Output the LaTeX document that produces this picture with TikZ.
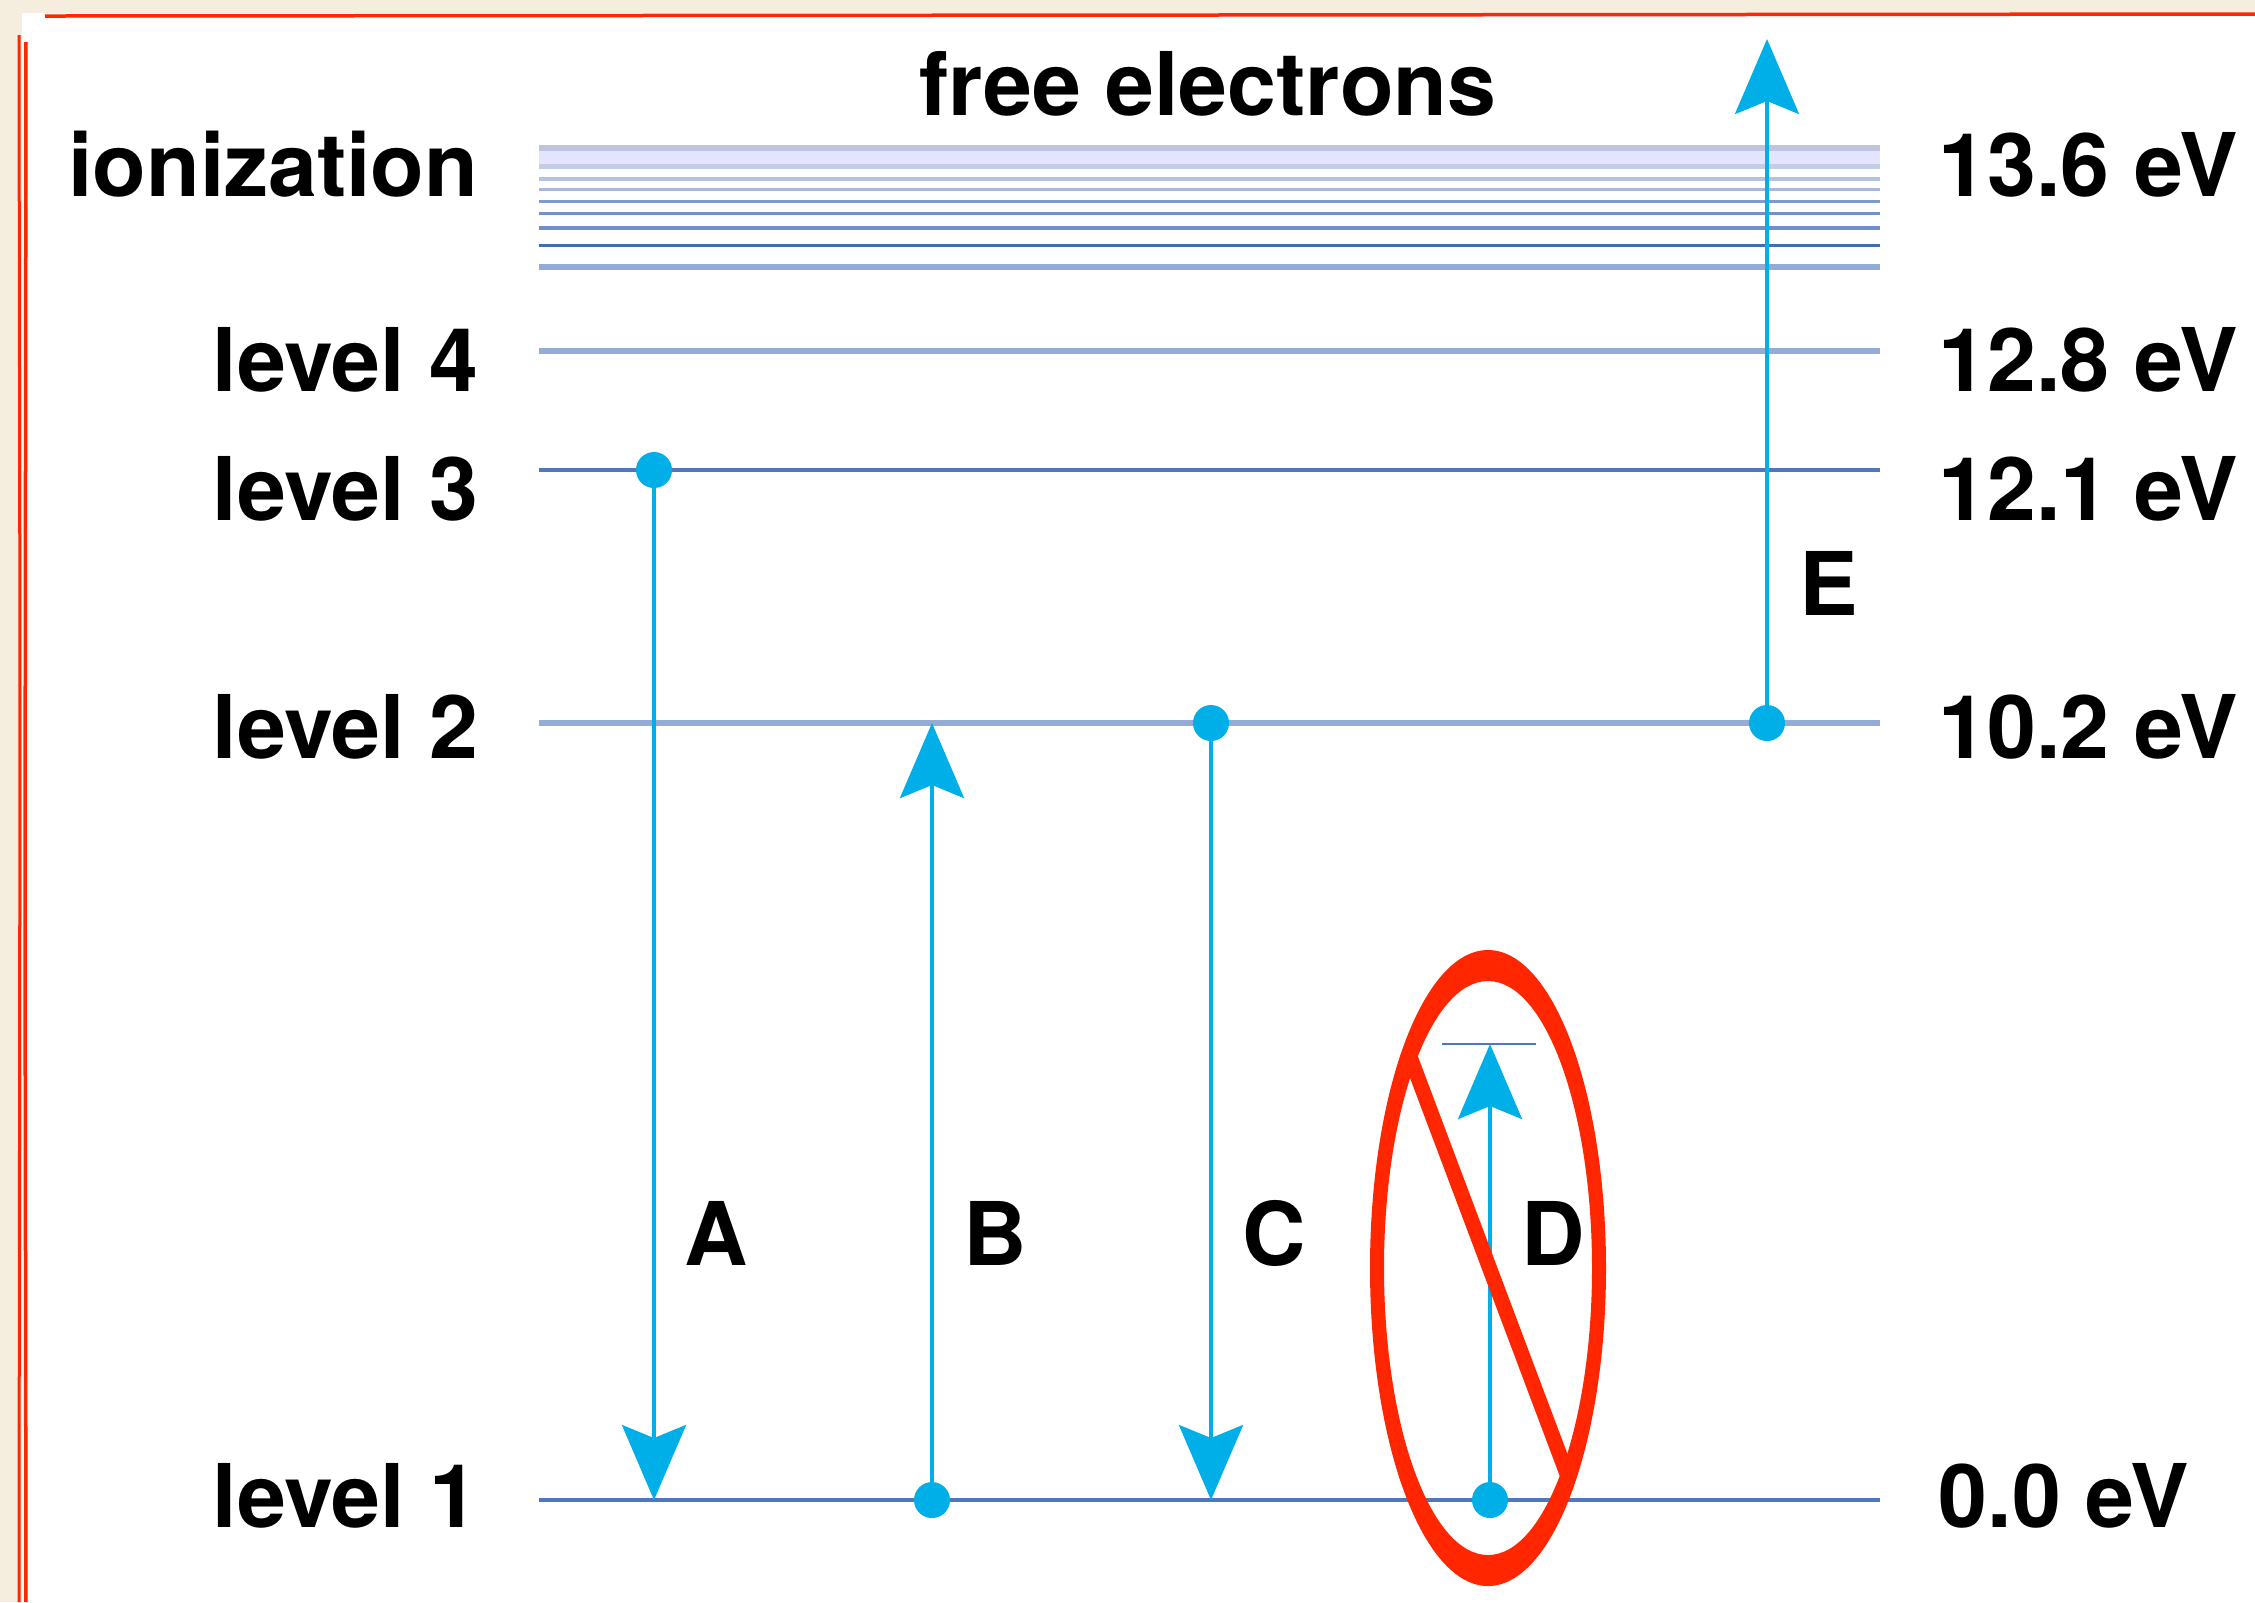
\documentclass[tikz,border=0pt]{standalone}
\usepackage{fontspec}
\setmainfont{TeX Gyre Heros}
\usepackage{xcolor}
\usetikzlibrary{arrows.meta}
\definecolor{paper}{RGB}{245, 238, 223}
\definecolor{marker}{RGB}{255, 38, 0}
\definecolor{jumpc}{RGB}{0, 174, 232}
\definecolor{levpale}{RGB}{146, 172, 214}
\definecolor{levdark}{RGB}{80, 118, 190}

\begin{document}
\begin{tikzpicture}[x=0.1mm,y=-0.1mm,
  lbl/.style={font=\fontsize{25}{30}\selectfont\bfseries,inner sep=0pt},
  jump/.style={jumpc,line width=0.38mm,-{Stealth[length=7.5mm,width=6.4mm,inset=1.3mm]}},
  dot/.style={jumpc},
  lev/.style={line width=0.35mm,levdark},
  levthick/.style={line width=0.6mm,levpale}]
\useasboundingbox (0,0) rectangle (2255,1602);
% paper and hand-drawn frame
\fill[paper] (0,0) rectangle (2255,1602);
\fill[white] (22,13) rectangle (2255,1602);
\draw[marker,line width=0.35mm] (45,16) -- (1200,15) -- (2255,14);
\draw[marker,line width=0.3mm] (19,35) -- (20,700) -- (19,1602);
\draw[marker,line width=0.35mm] (26,42) -- (25,900) -- (26,1602);
% ionization band
\fill[blue!30!white,opacity=0.35] (539,148) rectangle (1880,166);
\foreach \yy/\cc/\ww in {148/BEC3DE/0.55mm,166/C4CDE6/0.5mm,179/B4C2E2/0.4mm,189/A8B8DD/0.3mm,
  201/809AD0/0.3mm,213/7291CC/0.3mm,228/6F8FCC/0.4mm,245/3F6DB8/0.3mm,267/8FABD6/0.6mm}
  {\definecolor{bandc}{HTML}{\cc}
   \draw[bandc,line width=\ww] (539,\yy) -- (1880,\yy);}
% levels
\coordinate (l4w) at (539,351);  \coordinate (l4e) at (1880,351);
\coordinate (l3w) at (539,470);  \coordinate (l3e) at (1880,470);
\coordinate (l2w) at (539,723);  \coordinate (l2e) at (1880,723);
\coordinate (l1w) at (539,1500); \coordinate (l1e) at (1880,1500);
\draw[levthick] (l4w) -- (l4e);
\draw[lev] (l3w) -- (l3e);
\draw[levthick] (l2w) -- (l2e);
\draw[lev] (l1w) -- (l1e);
% labels
\node[lbl,anchor=base] (free) at (1208,115) {free electrons};
\node[lbl,anchor=base east] (ion) at (479,196) {ionization};
\node[lbl,anchor=base east] (lev4) at (479,391) {level 4};
\node[lbl,anchor=base east] (lev3) at (479,520) {level 3};
\node[lbl,anchor=base east] (lev2) at (479,758) {level 2};
\node[lbl,anchor=base east] (lev1) at (479,1527) {level 1};
\node[lbl,anchor=base west] (e5) at (1938,196) {13.6 eV};
\node[lbl,anchor=base west] (e4) at (1938,391) {12.8 eV};
\node[lbl,anchor=base west] (e3) at (1938,520) {12.1 eV};
\node[lbl,anchor=base west] (e2) at (1938,758) {10.2 eV};
\node[lbl,anchor=base west] (e1) at (1938,1527) {0.0 eV};
% transitions
\coordinate (A0) at (654,470);  \coordinate (A1) at (654,1500);
\coordinate (B0) at (932,1500); \coordinate (B1) at (932,723);
\coordinate (C0) at (1211,723); \coordinate (C1) at (1211,1500);
\coordinate (D0) at (1490,1500); \coordinate (D1) at (1490,1044);
\coordinate (E0) at (1767,723); \coordinate (E1) at (1767,39);
\coordinate (Dw) at (1442,1044); \coordinate (De) at (1536,1044);
\draw[levdark,line width=0.22mm] (Dw) -- (De);
\foreach \t in {A,B,C,D,E}
  {\draw[jump] (\t0) -- (\t1);
   \fill[dot] (\t0) circle [radius=18];}
\node[lbl,anchor=base] (tA) at (716,1265) {A};
\node[lbl,anchor=base] (tB) at (995,1265) {B};
\node[lbl,anchor=base] (tC) at (1274,1265) {C};
\node[lbl,anchor=base] (tD) at (1553,1265) {D};
\node[lbl,anchor=base] (tE) at (1829,615) {E};
% crossed-out D
\coordinate (Dc) at (1488,1268);
\coordinate (Xa) at (1409,1054);
\coordinate (Xb) at (1567,1474);
\fill[marker,even odd rule] (Dc) ellipse [x radius=118,y radius=318]
  (Dc) ellipse [x radius=104,y radius=287];
\draw[marker,line width=1.5mm] (Xa) -- (Xb);
\end{tikzpicture}
\end{document}
